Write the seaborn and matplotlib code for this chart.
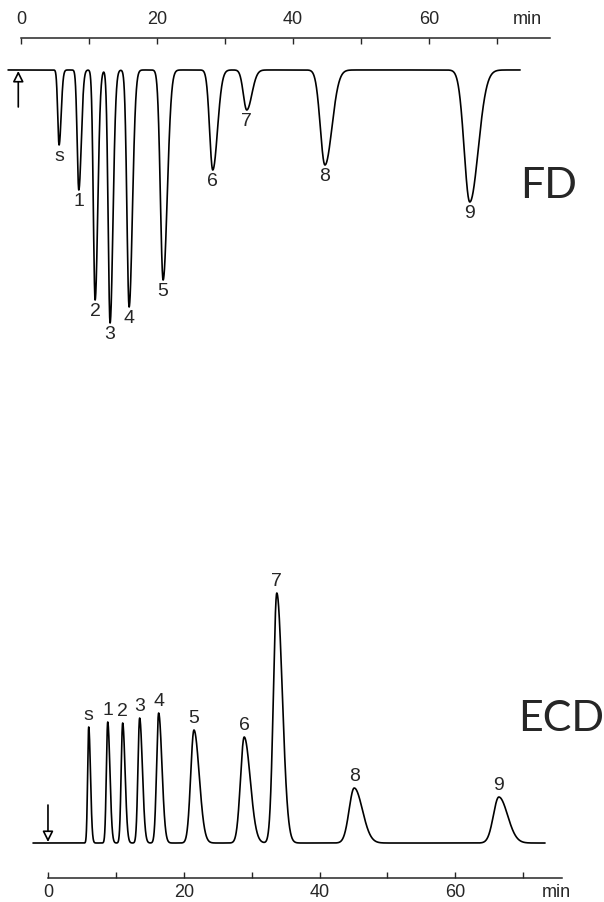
import numpy as np
import pandas as pd
import seaborn as sns
import matplotlib.pyplot as plt

# Peaks (time in min, size in arbitrary units)
peak_labels = ["s", "1", "2", "3", "4", "5", "6", "7", "8", "9"]

fd_time = [5.6, 8.5, 10.9, 13.1, 15.9, 20.9, 28.2, 33.2, 44.7, 66.0]
fd_depth = [75, 120, 230, 253, 237, 210, 100, 40, 95, 132]
fd_sigma = [0.2, 0.24, 0.26, 0.28, 0.32, 0.4, 0.46, 0.5, 0.68, 0.82]
fd_range = (-1.9, 73.4)

ecd_time = [6.0, 8.8, 11.0, 13.5, 16.3, 21.5, 28.9, 33.7, 45.1, 66.4]
ecd_height = [116, 121, 120, 125, 130, 113, 106, 250, 55, 46]
ecd_sigma = [0.16, 0.2, 0.22, 0.25, 0.3, 0.48, 0.55, 0.5, 0.75, 0.8]
ecd_range = (-2.2, 73.2)

major_ticks = [0, 20, 40, 60]
minor_ticks = [10, 30, 50, 70]


def trace(t_range, times, sizes, sigmas, tail=1.5):
    t = np.linspace(t_range[0], t_range[1], 8000)
    y = np.zeros_like(t)
    for t0, h, s in zip(times, sizes, sigmas):
        sd = np.where(t < t0, s, s * tail)
        y += h * np.exp(-0.5 * ((t - t0) / sd) ** 2)
    return pd.DataFrame({"t": t, "y": y})


fd_df = trace(fd_range, fd_time, fd_depth, fd_sigma)
fd_df["y"] = -fd_df["y"]
ecd_df = trace(ecd_range, ecd_time, ecd_height, ecd_sigma, tail=1.6)

sns.set_style("white")
plt.rcParams["font.family"] = ["Liberation Sans", "DejaVu Sans"]

fig = plt.figure(figsize=(6.04, 9.02), dpi=100)
ax1 = fig.add_axes([0.001, 0.6009, 0.9344, 0.357])
ax2 = fig.add_axes([0.0457, 0.0266, 0.9331, 0.3525])

arrow_style = dict(arrowstyle="-|>", ec="black", fc="white", lw=1.2,
                   mutation_scale=16, shrinkA=0, shrinkB=0)

# --- FD (top) ---
sns.lineplot(data=fd_df, x="t", y="y", ax=ax1, color="black", linewidth=1.2)
ax1.set_xlim(-3, 80)
ax1.set_ylim(-290, 32)
for t0, d, lab in zip(fd_time, fd_depth, peak_labels):
    ax1.annotate(lab, xy=(t0, -d), xytext=(0, -3), textcoords="offset pixels",
                 ha="center", va="top", fontsize=14)
ax1.annotate("", xy=(-0.4, -1), xytext=(-0.4, -37), arrowprops=arrow_style)

# --- ECD (bottom) ---
sns.lineplot(data=ecd_df, x="t", y="y", ax=ax2, color="black", linewidth=1.2)
ax2.set_xlim(-3, 80)
ax2.set_ylim(-35, 283)
for t0, h, lab in zip(ecd_time, ecd_height, peak_labels):
    ax2.annotate(lab, xy=(t0, h), xytext=(0, 3), textcoords="offset pixels",
                 ha="center", va="bottom", fontsize=14)
ax2.annotate("", xy=(0, 1), xytext=(0, 38), arrowprops=arrow_style)

# time axes
for ax, side, end, min_pos in [(ax1, "top", 77.8, 74.4), (ax2, "bottom", 75.7, 74.8)]:
    for s in ["top", "bottom", "left", "right"]:
        ax.spines[s].set_visible(s == side)
    ax.spines[side].set_bounds(0, end)
    ax.spines[side].set_linewidth(1.1)
    ax.set_yticks([])
    ax.set_xlabel("")
    ax.set_ylabel("")
    ax.set_xticks(major_ticks + [min_pos])
    ax.set_xticklabels([str(v) for v in major_ticks] + ["min"], fontsize=13)
    ax.set_xticks(minor_ticks, minor=True)
    ax.tick_params(axis="x", which="both", direction="in", length=4.5, width=1.0,
                   top=(side == "top"), bottom=(side == "bottom"),
                   labeltop=(side == "top"), labelbottom=(side == "bottom"),
                   pad=7 if side == "top" else 4.5)
    last = ax.xaxis.get_major_ticks()[-1]
    last.tick1line.set_visible(False)
    last.tick2line.set_visible(False)

fig.text(549 / 604, 1 - 186 / 902, "FD", ha="center", va="center",
         fontsize=31, family=["Lato", "DejaVu Sans"])
fig.text(561 / 604, 1 - 719 / 902, "ECD", ha="center", va="center",
         fontsize=31, family=["Lato", "DejaVu Sans"])

fig.savefig("out.png", dpi=100)
